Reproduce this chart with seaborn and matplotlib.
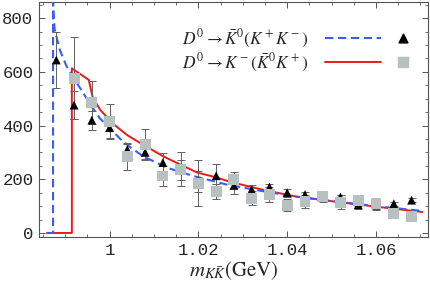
import matplotlib
matplotlib.use('Agg')
import matplotlib.pyplot as plt
import seaborn as sns
import numpy as np
from matplotlib.ticker import MultipleLocator

# model curves
blue_x = [0.9859, 0.98726, 0.98726, 0.98760, 0.9888, 0.99035, 0.9922, 0.9941, 0.9960,
          0.9979, 1.0001, 1.0024, 1.0046, 1.0076, 1.0129, 1.0189, 1.0264, 1.0347,
          1.0422, 1.0520, 1.0600, 1.0704]
blue_y = [0, 0, 860, 760, 681, 619, 569, 520, 470, 425, 390, 350, 320, 285, 243, 212,
          180, 155, 135, 115, 100, 82]

red_x = [0.9859, 0.9915, 0.9915, 0.9953, 0.9962, 0.9979, 1.0009, 1.0039, 1.0069,
         1.0121, 1.0197, 1.0238, 1.0272, 1.0347, 1.0422, 1.0520, 1.0600, 1.0704]
red_y = [0, 0, 613, 570, 505, 458, 405, 365, 335, 285, 225, 208, 190, 160, 135, 114, 98, 78]

# D0 -> K0bar (K+ K-)  triangles
tri_x = [0.988, 0.992, 0.996, 1.000, 1.004, 1.008, 1.012, 1.016, 1.020, 1.024, 1.028,
         1.032, 1.036, 1.040, 1.044, 1.048, 1.052, 1.056, 1.060, 1.064, 1.068]
tri_y = [644, 476, 420, 392, 311, 300, 262, 235, 192, 213, 177, 161, 171, 150, 143,
         132, 134, 105, 105, 109, 122]
tri_e = [105, 53, 35, 40, 22, 30, 37, 37, 40, 43, 31, 19, 13, 15, 10, 10, 6, 16, 21, 8, 8]

# D0 -> K- (K0bar K+)  squares
sq_x = [0.992, 0.996, 1.000, 1.004, 1.008, 1.012, 1.016, 1.020, 1.024, 1.028, 1.032,
        1.036, 1.040, 1.044, 1.048, 1.052, 1.056, 1.060, 1.064, 1.068]
sq_y = [576, 485, 414, 284, 331, 212, 237, 185, 154, 198, 130, 143, 103, 118, 135,
        115, 122, 109, 72, 63]
sq_e = [152, 81, 65, 50, 55, 37, 63, 85, 28, 30, 27, 28, 22, 24, 19, 25, 21, 19, 10, 10]

xticks = [1.00, 1.02, 1.04, 1.06]
xtick_labels = ['1', '1.02', '1.04', '1.06']
yticks = [0, 200, 400, 600, 800]

sns.set_theme(style='ticks')
plt.rcParams['font.family'] = ['DejaVu Sans']
plt.rcParams['mathtext.fontset'] = 'stix'

fig = plt.figure(figsize=(4.3, 2.84), dpi=100)
ax = fig.add_axes([0.0907, 0.1655, 0.9046, 0.8275])

blue = '#3a5cff'
red = '#ee1a1a'
sq_col = '#b7c1c1'
err_col = '#606060'

sns.lineplot(x=red_x, y=red_y, sort=False, estimator=None, color=red, lw=1.4, ax=ax, zorder=3)
sns.lineplot(x=blue_x, y=blue_y, sort=False, estimator=None, color=blue, lw=1.5, ax=ax,
             zorder=4, dashes=False, linestyle=(0, (4, 2.2)))

ax.errorbar(tri_x, tri_y, yerr=tri_e, fmt='none', ecolor=err_col, elinewidth=0.7,
            capsize=3, capthick=0.7, zorder=5)
ax.errorbar(sq_x, sq_y, yerr=sq_e, fmt='none', ecolor=err_col, elinewidth=0.7,
            capsize=3, capthick=0.7, zorder=5)
sns.scatterplot(x=tri_x, y=tri_y, marker='^', s=40, color='black', edgecolor='none',
                ax=ax, zorder=6)
sns.scatterplot(x=sq_x, y=sq_y, marker='s', s=62, color=sq_col, edgecolor='none',
                ax=ax, zorder=7)

ax.set_xlim(0.9841, 1.0717)
ax.set_ylim(-15, 860)
ax.set_xticks(xticks)
ax.set_xticklabels(xtick_labels)
ax.set_yticks(yticks)
ax.xaxis.set_minor_locator(MultipleLocator(0.005))
ax.yaxis.set_minor_locator(MultipleLocator(50))
ax.tick_params(which='both', direction='in', top=True, right=True, color='#555555')
ax.tick_params(which='major', length=4.5, width=0.7, pad=4)
ax.tick_params(which='minor', length=2.5, width=0.6)
for lab in ax.get_xticklabels() + ax.get_yticklabels():
    lab.set_family('Liberation Mono')
    lab.set_fontsize(12.5)
for sp in ax.spines.values():
    sp.set_color('#555555')
    sp.set_linewidth(0.8)

ax.set_xlabel(r'$m_{K\bar{K}}(\mathrm{GeV})$', fontsize=15, labelpad=1)

# legend drawn by hand: label, line sample, marker
tr = ax.transAxes
ax.text(0.692, 0.845, r'$D^0 \to \bar{K}^0(K^+K^-)$', transform=tr, ha='right',
        va='center', fontsize=12.5)
ax.text(0.692, 0.745, r'$D^0 \to K^-(\bar{K}^0K^+)$', transform=tr, ha='right',
        va='center', fontsize=12.5)
ax.plot([0.736, 0.878], [0.845, 0.845], transform=tr, color=blue, lw=1.5,
        linestyle=(0, (4, 2.2)))
ax.plot([0.736, 0.878], [0.745, 0.745], transform=tr, color=red, lw=1.4)
ax.scatter([0.935], [0.845], transform=tr, marker='^', s=40, color='black')
ax.scatter([0.935], [0.745], transform=tr, marker='s', s=62, color=sq_col)

fig.savefig('out.png', dpi=100)
